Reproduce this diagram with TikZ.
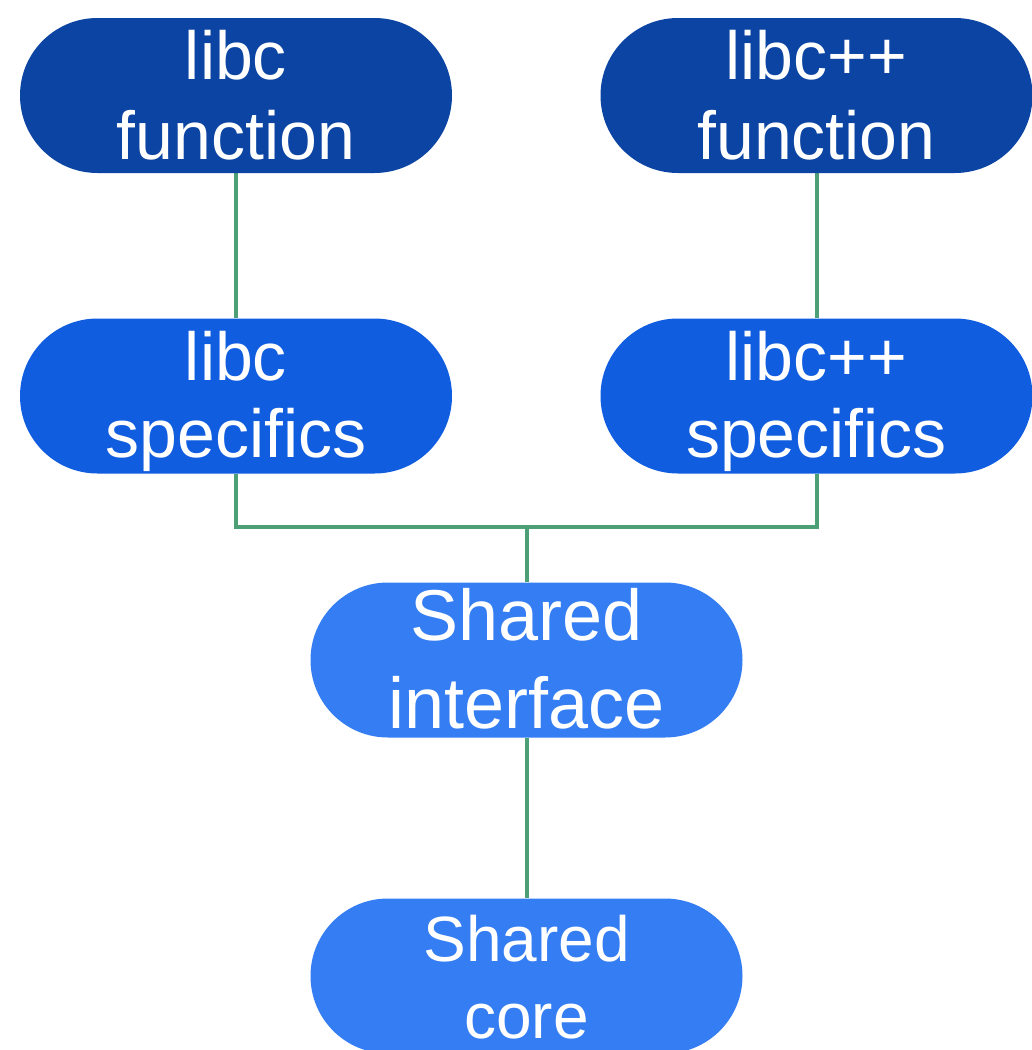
\documentclass[tikz,border=0pt]{standalone}
\usepackage{fontspec}
\setmainfont{Liberation Sans}
\usetikzlibrary{calc,backgrounds}
\definecolor{fnblue}{HTML}{0B44A2}
\definecolor{spblue}{HTML}{105DE0}
\definecolor{shblue}{HTML}{347DF3}
\definecolor{linkgreen}{HTML}{4DA075}
\tikzset{
  pill/.style={rectangle, rounded corners=77.5pt, minimum width=432pt,
    minimum height=155pt, inner sep=0pt, draw=none},
  lbl/.style={text=white, inner sep=0pt, anchor=base,
    font=\fontsize{68}{78}\selectfont},
  biglbl/.style={lbl, font=\fontsize{72}{84}\selectfont},
  smalllbl/.style={lbl, font=\fontsize{64}{76}\selectfont},
  link/.style={draw=linkgreen, line width=4pt},
}
\begin{document}
\begin{tikzpicture}[x=1pt, y=-1pt]
  \clip (0,0) rectangle (1032,1050);

  % boxes
  \node[pill, fill=fnblue] (lf) at (236,95.5) {};
  \node[pill, fill=fnblue] (pf) at (816.5,95.5) {};
  \node[pill, fill=spblue] (ls) at (236,396) {};
  \node[pill, fill=spblue] (ps) at (816.5,396) {};
  \node[pill, fill=shblue] (si) at (526.5,660) {};
  \node[pill, fill=shblue] (sc) at (526.5,976) {};

  % labels, two lines per box
  \node[lbl] (lf1) at ($(lf.north)+(0,62)$) {libc};
  \node[lbl] (lf2) at ($(lf.north)+(0,142)$) {function};
  \node[lbl] (pf1) at ($(pf.north)+(0,62)$) {libc++};
  \node[lbl] (pf2) at ($(pf.north)+(0,142)$) {function};
  \node[lbl] (ls1) at ($(ls.north)+(0,62)$) {libc};
  \node[lbl] (ls2) at ($(ls.north)+(0,139)$) {specifics};
  \node[lbl] (ps1) at ($(ps.north)+(0,62)$) {libc++};
  \node[lbl] (ps2) at ($(ps.north)+(0,139)$) {specifics};
  \node[biglbl] (si1) at ($(si.north)+(0,58)$) {Shared};
  \node[biglbl] (si2) at ($(si.north)+(0,146)$) {interface};
  \node[smalllbl] (sc1) at ($(sc.north)+(0,63)$) {Shared};
  \node[smalllbl] (sc2) at ($(sc.north)+(0,140)$) {core};

  % white page and connectors, underneath the boxes
  \coordinate (join) at (526.5,527);
  \begin{scope}[on background layer]
    \fill[white] (0,0) rectangle (1032,1050);
    \draw[link] (lf.south) -- (ls.north);
    \draw[link] (pf.south) -- (ps.north);
    \draw[link] (ls.south) |- (join) -| (ps.south);
    \draw[link] (join) -- (si.north);
    \draw[link] (si.south) -- (sc.north);
  \end{scope}
\end{tikzpicture}
\end{document}
